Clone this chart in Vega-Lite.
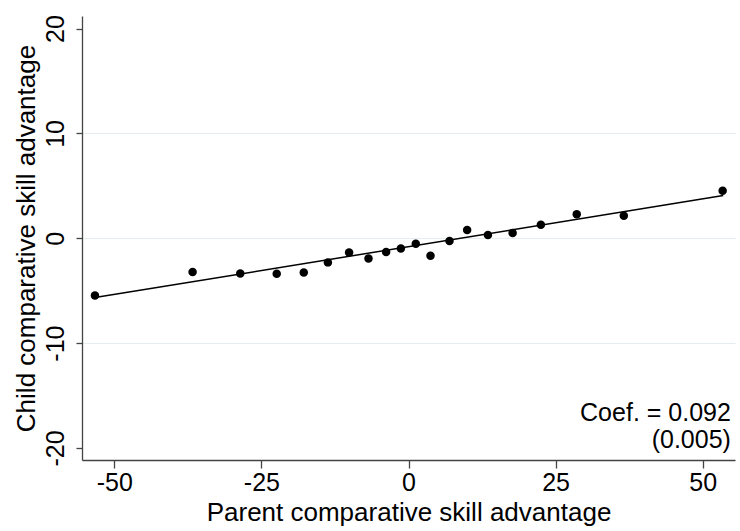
{
  "$schema": "https://vega.github.io/schema/vega-lite/v6.json",
  "width": 653,
  "height": 444,
  "autosize": {"type": "none"},
  "padding": {"left": 82, "top": 16, "right": 5, "bottom": 71},
  "background": "white",
  "config": {
    "view": {"stroke": null},
    "font": "Liberation Sans",
    "axis": {
      "labelFont": "Liberation Sans",
      "titleFont": "Liberation Sans",
      "labelColor": "#000",
      "titleColor": "#000",
      "titleFontWeight": "normal",
      "domainColor": "#444",
      "tickColor": "#444",
      "domainWidth": 1.3,
      "tickWidth": 1.3
    }
  },
  "datasets": {
    "bins": [
      {"parent": -53.3, "child": -5.45},
      {"parent": -36.7, "child": -3.22},
      {"parent": -28.6, "child": -3.35},
      {"parent": -22.4, "child": -3.38},
      {"parent": -17.8, "child": -3.26},
      {"parent": -13.7, "child": -2.3},
      {"parent": -10.1, "child": -1.35},
      {"parent": -6.8, "child": -1.92},
      {"parent": -3.8, "child": -1.32},
      {"parent": -1.3, "child": -0.97},
      {"parent": 1.24, "child": -0.52},
      {"parent": 3.74, "child": -1.67},
      {"parent": 6.97, "child": -0.27},
      {"parent": 9.97, "child": 0.78},
      {"parent": 13.5, "child": 0.3},
      {"parent": 17.7, "child": 0.5},
      {"parent": 22.5, "child": 1.29},
      {"parent": 28.6, "child": 2.3},
      {"parent": 36.6, "child": 2.14},
      {"parent": 53.4, "child": 4.53}
    ],
    "fit": [
      {"parent": -53.3, "child": -5.66},
      {"parent": 53.5, "child": 4.08}
    ]
  },
  "layer": [
    {
      "data": {"name": "fit"},
      "mark": {"type": "line", "color": "#000", "strokeWidth": 1.5},
      "encoding": {
        "x": {
          "field": "parent", "type": "quantitative",
          "scale": {"domain": [-55.5, 55.5], "nice": false, "zero": false},
          "axis": {
            "title": "Parent comparative skill advantage",
            "values": [-50, -25, 0, 25, 50],
            "labelExpr": "'' + datum.value",
            "labelFontSize": 25,
            "titleFontSize": 26,
            "tickSize": 8,
            "labelPadding": 2,
            "titlePadding": 4,
            "grid": false,
            "labelFlush": false
          }
        },
        "y": {
          "field": "child", "type": "quantitative",
          "scale": {"domain": [-21.15, 21.2], "nice": false, "zero": false},
          "axis": {
            "title": "Child comparative skill advantage",
            "values": [-20, -10, 0, 10, 20],
            "labelExpr": "'' + datum.value",
            "labelFontSize": 25,
            "titleFontSize": 26,
            "tickSize": 6,
            "labelAngle": -90,
            "labelAlign": "center",
            "labelBaseline": "bottom",
            "labelPadding": 7.5,
            "titlePadding": 4,
            "labelFlush": false,
            "grid": true,
            "gridWidth": 1,
            "gridColor": {
              "condition": {"test": "datum.value === 20 || datum.value === -20", "value": "transparent"},
              "value": "#e4edf0"
            }
          }
        }
      }
    },
    {
      "data": {"name": "bins"},
      "mark": {"type": "circle", "color": "#000", "opacity": 1, "size": 72},
      "encoding": {
        "x": {"field": "parent", "type": "quantitative"},
        "y": {"field": "child", "type": "quantitative"}
      }
    },
    {
      "data": {"values": [{}]},
      "mark": {
        "type": "text",
        "text": ["Coef. = 0.092", "(0.005)"],
        "align": "right",
        "baseline": "alphabetic",
        "fontSize": 25,
        "lineHeight": 27,
        "font": "Liberation Sans",
        "color": "#000"
      },
      "encoding": {
        "x": {"datum": 54.8, "type": "quantitative"},
        "y": {"datum": -17.4, "type": "quantitative"}
      }
    }
  ]
}
